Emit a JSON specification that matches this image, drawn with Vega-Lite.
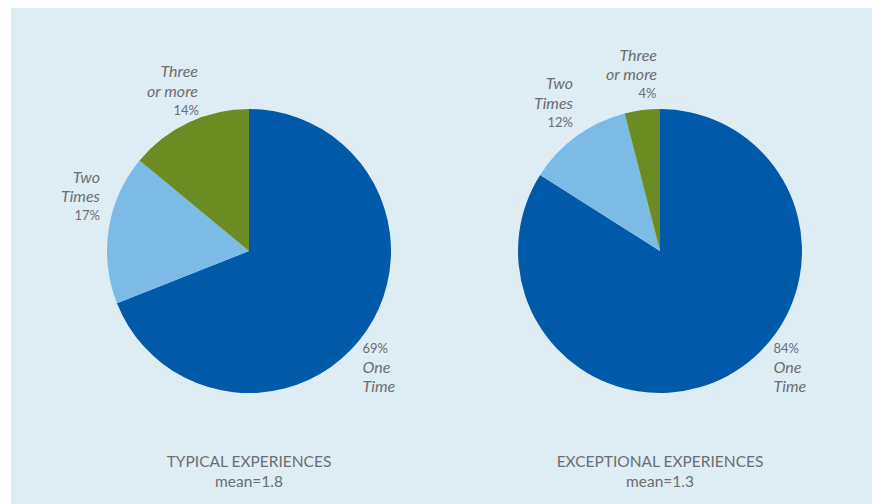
{
  "$schema": "https://vega.github.io/schema/vega-lite/v6.json",
  "width": 861,
  "height": 496,
  "autosize": {"type": "none"},
  "padding": {"left": 11, "top": 8, "right": 8, "bottom": 0},
  "background": "#ffffff",
  "config": {"view": {"fill": "#deecf4", "stroke": null}, "font": "Lato"},
  "datasets": {
    "slices": [
      {"chart": "Typical", "category": "One Time", "name": "One\nTime", "pct": 69, "label": "69%", "order": 1},
      {"chart": "Typical", "category": "Two Times", "name": "Two\nTimes", "pct": 17, "label": "17%", "order": 2},
      {"chart": "Typical", "category": "Three or more", "name": "Three\nor more", "pct": 14, "label": "14%", "order": 3},
      {"chart": "Exceptional", "category": "One Time", "name": "One\nTime", "pct": 84, "label": "84%", "order": 1},
      {"chart": "Exceptional", "category": "Two Times", "name": "Two\nTimes", "pct": 12, "label": "12%", "order": 2},
      {"chart": "Exceptional", "category": "Three or more", "name": "Three\nor more", "pct": 4, "label": "4%", "order": 3}
    ],
    "titles": [
      {"chart": "Typical", "title": "TYPICAL EXPERIENCES", "mean": "mean=1.8"},
      {"chart": "Exceptional", "title": "EXCEPTIONAL EXPERIENCES", "mean": "mean=1.3"}
    ]
  },
  "encoding": {
    "x": {"field": "chart", "type": "nominal", "scale": {"type": "point", "domain": ["Typical", "Exceptional"], "padding": 0.5474, "align": 0.5289}, "axis": null}
  },
  "layer": [
    {
      "data": {"name": "slices"},
      "transform": [{"stack": "pct", "groupby": ["chart"], "sort": [{"field": "order", "order": "ascending"}], "as": ["t0", "t1"]}],
      "mark": {"type": "arc", "outerRadius": 142, "innerRadius": 0},
      "encoding": {
        "y": {"datum": "pie", "type": "nominal", "scale": {"type": "point", "domain": ["pie", "title"], "padding": 0.6866, "align": 0.8467}, "axis": null},
        "theta": {"field": "t0", "type": "quantitative", "scale": {"domain": [0, 100]}},
        "theta2": {"field": "t1"},
        "color": {"field": "category", "type": "nominal", "scale": {"domain": ["One Time", "Two Times", "Three or more"], "range": ["#0059a9", "#7bbbe5", "#6b8c22"]}, "legend": null}
      }
    },
    {
      "data": {"name": "slices"},
      "transform": [{"filter": "datum.category === 'One Time'"}],
      "mark": {"type": "text", "align": "left", "baseline": "alphabetic", "dx": 113.5, "dy": 102, "fontSize": 13, "color": "#6d6e71"},
      "encoding": {"y": {"datum": "pie", "type": "nominal"}, "text": {"field": "label"}}
    },
    {
      "data": {"name": "slices"},
      "transform": [{"filter": "datum.category === 'One Time'"}],
      "mark": {"type": "text", "align": "left", "baseline": "alphabetic", "dx": 113.5, "dy": 121.5, "fontSize": 16, "fontStyle": "italic", "lineHeight": 19.5, "lineBreak": "\n", "color": "#6d6e71"},
      "encoding": {"y": {"datum": "pie", "type": "nominal"}, "text": {"field": "name"}}
    },
    {
      "data": {"name": "slices"},
      "transform": [{"filter": "datum.chart === 'Typical' && datum.category === 'Three or more'"}],
      "mark": {"type": "text", "align": "right", "baseline": "alphabetic", "dx": -51, "dy": -174, "fontSize": 16, "fontStyle": "italic", "lineHeight": 19.5, "lineBreak": "\n", "color": "#6d6e71"},
      "encoding": {"y": {"datum": "pie", "type": "nominal"}, "text": {"field": "name"}}
    },
    {
      "data": {"name": "slices"},
      "transform": [{"filter": "datum.chart === 'Typical' && datum.category === 'Three or more'"}],
      "mark": {"type": "text", "align": "right", "baseline": "alphabetic", "dx": -50, "dy": -136, "fontSize": 13, "color": "#6d6e71"},
      "encoding": {"y": {"datum": "pie", "type": "nominal"}, "text": {"field": "label"}}
    },
    {
      "data": {"name": "slices"},
      "transform": [{"filter": "datum.chart === 'Typical' && datum.category === 'Two Times'"}],
      "mark": {"type": "text", "align": "right", "baseline": "alphabetic", "dx": -149, "dy": -68.3, "fontSize": 16, "fontStyle": "italic", "lineHeight": 19.5, "lineBreak": "\n", "color": "#6d6e71"},
      "encoding": {"y": {"datum": "pie", "type": "nominal"}, "text": {"field": "name"}}
    },
    {
      "data": {"name": "slices"},
      "transform": [{"filter": "datum.chart === 'Typical' && datum.category === 'Two Times'"}],
      "mark": {"type": "text", "align": "right", "baseline": "alphabetic", "dx": -149, "dy": -31, "fontSize": 13, "color": "#6d6e71"},
      "encoding": {"y": {"datum": "pie", "type": "nominal"}, "text": {"field": "label"}}
    },
    {
      "data": {"name": "slices"},
      "transform": [{"filter": "datum.chart === 'Exceptional' && datum.category === 'Three or more'"}],
      "mark": {"type": "text", "align": "right", "baseline": "alphabetic", "dx": -3, "dy": -190.3, "fontSize": 16, "fontStyle": "italic", "lineHeight": 19.5, "lineBreak": "\n", "color": "#6d6e71"},
      "encoding": {"y": {"datum": "pie", "type": "nominal"}, "text": {"field": "name"}}
    },
    {
      "data": {"name": "slices"},
      "transform": [{"filter": "datum.chart === 'Exceptional' && datum.category === 'Three or more'"}],
      "mark": {"type": "text", "align": "right", "baseline": "alphabetic", "dx": -3.5, "dy": -153, "fontSize": 13, "color": "#6d6e71"},
      "encoding": {"y": {"datum": "pie", "type": "nominal"}, "text": {"field": "label"}}
    },
    {
      "data": {"name": "slices"},
      "transform": [{"filter": "datum.chart === 'Exceptional' && datum.category === 'Two Times'"}],
      "mark": {"type": "text", "align": "right", "baseline": "alphabetic", "dx": -87, "dy": -161.7, "fontSize": 16, "fontStyle": "italic", "lineHeight": 19.5, "lineBreak": "\n", "color": "#6d6e71"},
      "encoding": {"y": {"datum": "pie", "type": "nominal"}, "text": {"field": "name"}}
    },
    {
      "data": {"name": "slices"},
      "transform": [{"filter": "datum.chart === 'Exceptional' && datum.category === 'Two Times'"}],
      "mark": {"type": "text", "align": "right", "baseline": "alphabetic", "dx": -87, "dy": -123.7, "fontSize": 13, "color": "#6d6e71"},
      "encoding": {"y": {"datum": "pie", "type": "nominal"}, "text": {"field": "label"}}
    },
    {
      "data": {"name": "titles"},
      "mark": {"type": "text", "align": "center", "baseline": "alphabetic", "dy": 6.5, "fontSize": 15.5, "color": "#6d6e71"},
      "encoding": {"y": {"datum": "title", "type": "nominal"}, "text": {"field": "title"}}
    },
    {
      "data": {"name": "titles"},
      "mark": {"type": "text", "align": "center", "baseline": "alphabetic", "dy": 26.5, "fontSize": 15.5, "color": "#6d6e71"},
      "encoding": {"y": {"datum": "title", "type": "nominal"}, "text": {"field": "mean"}}
    }
  ]
}
